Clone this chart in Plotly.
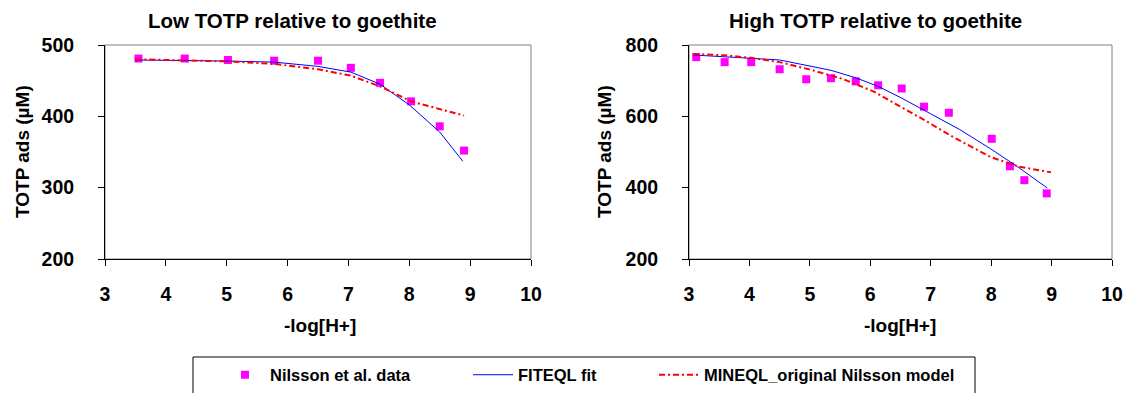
import plotly.graph_objects as go

# ---------------- data ----------------
left_data_x = [3.55, 4.31, 5.02, 5.78, 6.50, 7.04, 7.52, 8.03, 8.50, 8.90]
left_data_y = [481, 481, 479, 478, 478, 468, 447, 421, 386, 352]
left_fit_x = [3.50, 4.30, 5.02, 5.78, 6.50, 7.04, 7.52, 8.00, 8.50, 8.88]
left_fit_y = [479, 478.5, 477.5, 476, 470, 462, 445, 416, 378, 337]
left_mineql_x = [3.50, 4.30, 5.02, 5.78, 6.50, 7.04, 7.52, 8.03, 8.50, 8.90]
left_mineql_y = [480, 478, 477, 473.5, 466, 457, 442, 421, 410, 401]

right_data_x = [3.12, 3.59, 4.03, 4.50, 4.94, 5.35, 5.76, 6.13, 6.52, 6.89, 7.30, 8.01, 8.31, 8.55, 8.92]
right_data_y = [766, 752, 752, 732, 704, 707, 698, 687, 678, 627, 610, 537, 460, 421, 384]
right_fit_x = [3.07, 4.03, 4.50, 5.35, 5.76, 6.13, 6.52, 7.00, 7.48, 7.99, 8.46, 8.93]
right_fit_y = [772, 764, 758, 729, 708, 684, 651, 607, 563, 509, 456, 399]
right_mineql_x = [3.07, 3.59, 4.03, 4.50, 5.05, 5.54, 6.05, 6.49, 6.89, 7.37, 7.99, 8.46, 8.99]
right_mineql_y = [775, 771, 764, 752, 729, 705, 670, 629, 590, 542, 486, 459, 443]

titles = ["Low TOTP relative to goethite", "High TOTP relative to goethite"]
x_title = "-log[H+]"
y_title = "TOTP ads (\u00b5M)"
series_names = ["Nilsson et al. data", "FITEQL fit", "MINEQL_original Nilsson model"]
x_ticks = [3, 4, 5, 6, 7, 8, 9, 10]
left_y_ticks = [200, 300, 400, 500]
right_y_ticks = [200, 400, 600, 800]

# ---------------- figure ----------------
OFF = 0  # page body margin is removed by the post script below
W, H = 1126, 393
FONT = "Liberation Sans, Arial, sans-serif"
MAGENTA = "#FF00FF"
BLUE = "#0000FF"
RED = "#FF0000"

def px_x(p):
    return (p - OFF) / W

def px_y(p):
    return 1 - (p - OFF) / H

fig = go.Figure()

panels = [
    ("x", "y", left_data_x, left_data_y, left_fit_x, left_fit_y, left_mineql_x, left_mineql_y),
    ("x2", "y2", right_data_x, right_data_y, right_fit_x, right_fit_y, right_mineql_x, right_mineql_y),
]
for i, (xa, ya, dx, dy, fx, fy, mx, my) in enumerate(panels):
    first = i == 0
    fig.add_trace(go.Scatter(x=dx, y=dy, mode="markers", name=series_names[0],
                             marker=dict(symbol="square", size=8, color=MAGENTA),
                             xaxis=xa, yaxis=ya, showlegend=first, legend="legend"))
    fig.add_trace(go.Scatter(x=fx, y=fy, mode="lines", name=series_names[1],
                             line=dict(color=BLUE, width=1),
                             xaxis=xa, yaxis=ya, showlegend=first, legend="legend2"))
    fig.add_trace(go.Scatter(x=mx, y=my, mode="lines", name=series_names[2],
                             line=dict(color=RED, width=2, dash="6px,3px,2px,3px"),
                             xaxis=xa, yaxis=ya, showlegend=first, legend="legend3"))

tickfont = dict(family=FONT, size=19.5, color="black", weight="bold")
axis_common = dict(showline=True, linecolor="black", linewidth=1, mirror=False,
                   ticks="outside", ticklen=6, tickcolor="black", tickwidth=1,
                   showgrid=False, zeroline=False, tickfont=tickfont, fixedrange=True,
                   automargin=False, ticklabeloverflow="allow")

ydom = [px_y(259), px_y(45)]
fig.update_layout(
    template="none",
    width=W, height=H, autosize=False,
    margin=dict(l=0, r=0, t=0, b=0, pad=0, autoexpand=False),
    paper_bgcolor="white", plot_bgcolor="white",
    xaxis=dict(domain=[px_x(105), px_x(531)], range=[3, 10], tickvals=x_ticks,
               anchor="y", ticklabelstandoff=12, **axis_common),
    yaxis=dict(domain=ydom, range=[200, 500], tickvals=left_y_ticks,
               anchor="x", ticklabelstandoff=20, **axis_common),
    xaxis2=dict(domain=[px_x(689), px_x(1112)], range=[3, 10], tickvals=x_ticks,
                anchor="y2", ticklabelstandoff=12, **axis_common),
    yaxis2=dict(domain=ydom, range=[200, 800], tickvals=right_y_ticks,
                anchor="x2", ticklabelstandoff=20, **axis_common),
    showlegend=True,
)

legend_common = dict(orientation="h", yanchor="middle", y=px_y(375), xanchor="left",
                     bgcolor="rgba(0,0,0,0)", borderwidth=0, itemwidth=40,
                     font=dict(family=FONT, size=16.5, color="black", weight="bold"))
fig.update_layout(
    legend=dict(x=px_x(220), **legend_common),
    legend2=dict(x=px_x(468), **legend_common),
    legend3=dict(x=px_x(654), **legend_common),
)

# frames (gray) and legend box
for xr, yr in [("x domain", "y domain"), ("x2 domain", "y2 domain")]:
    fig.add_shape(type="rect", xref=xr, yref=yr, x0=0, x1=1, y0=0, y1=1,
                  line=dict(color="#808080", width=1), layer="below")
fig.add_shape(type="rect", xref="paper", yref="paper", x0=px_x(193), x1=px_x(975),
              y0=px_y(396), y1=px_y(357), line=dict(color="black", width=1))

title_font = dict(family=FONT, size=20.5, color="black", weight="bold")
lab_font = dict(family=FONT, size=19, color="black", weight="bold")
annos = [
    dict(text=titles[0], x=px_x(292), y=px_y(21), font=title_font),
    dict(text=titles[1], x=px_x(875), y=px_y(21), font=title_font),
    dict(text=x_title, x=px_x(320), y=px_y(325), font=lab_font),
    dict(text=x_title, x=px_x(900), y=px_y(325), font=lab_font),
    dict(text=y_title, x=px_x(22), y=px_y(152), font=lab_font, textangle=-90),
    dict(text=y_title, x=px_x(604), y=px_y(152), font=lab_font, textangle=-90),
]
for a in annos:
    fig.add_annotation(xref="paper", yref="paper", showarrow=False,
                       xanchor="center", yanchor="middle", **a)

fig.write_html("out.html", default_width=f"{W}px", default_height=f"{H}px",
               config={"displayModeBar": False, "staticPlot": True},
               post_script="document.body.style.margin='0';document.body.style.overflow='hidden';")
